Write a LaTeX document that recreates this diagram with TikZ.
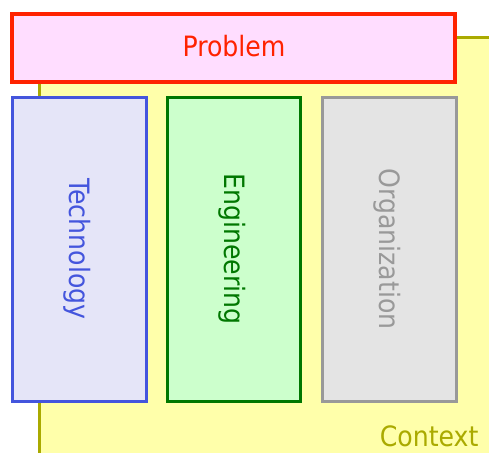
\documentclass[tikz,border=0pt]{standalone}
\usepackage{fontspec}
\setmainfont{DejaVu Sans Condensed}
\definecolor{probfill}{RGB}{255,221,255}
\definecolor{probline}{RGB}{255,34,0}
\definecolor{techfill}{RGB}{229,229,248}
\definecolor{techline}{RGB}{68,85,221}
\definecolor{engfill}{RGB}{204,255,204}
\definecolor{engline}{RGB}{0,119,0}
\definecolor{orgfill}{RGB}{228,228,228}
\definecolor{orgline}{RGB}{153,153,153}
\definecolor{ctxfill}{RGB}{255,255,170}
\definecolor{ctxline}{RGB}{170,170,0}
\begin{document}
\begin{tikzpicture}[x=1pt,y=-1pt,
  box/.style={draw,line width=3pt},
  lbl/.style={font=\fontsize{28}{30}\selectfont}]
\useasboundingbox (0,0) rectangle (489,452);
\clip (0,0) rectangle (489,452);
% context
\draw[fill=ctxfill,draw=ctxline,line width=3pt] (39,38) rectangle (530,500);
\node[lbl,text=ctxline,anchor=base east] (ctx) at (482,446) {Context};
% problem
\draw[box,fill=probfill,draw=probline,line width=3.2pt] (12,14) rectangle (455,82);
\node[lbl,text=probline] (prob) at (234,46) {Problem};
% columns
\draw[box,fill=techfill,draw=techline] (12,97) rectangle (146,401);
\node[lbl,text=techline,rotate=-90] (tech) at (77,249) {Technology};
\draw[box,fill=engfill,draw=engline] (167,97) rectangle (300,401);
\node[lbl,text=engline,rotate=-90] (eng) at (232,249) {Engineering};
\draw[box,fill=orgfill,draw=orgline] (322,97) rectangle (456,401);
\node[lbl,text=orgline,rotate=-90] (org) at (387,249) {Organization};
\end{tikzpicture}
\end{document}
